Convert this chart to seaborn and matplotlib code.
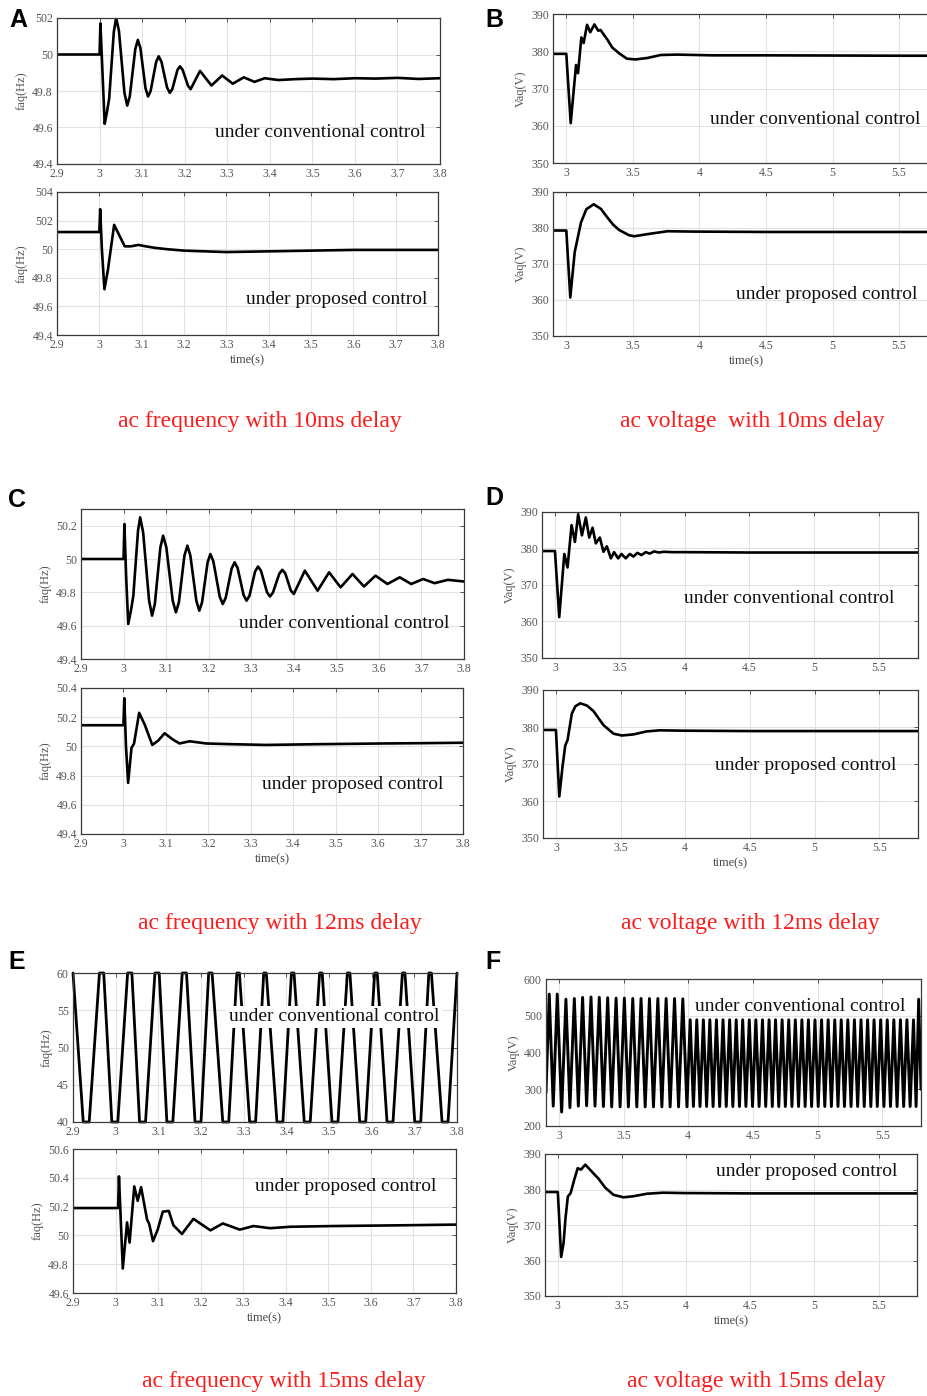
import numpy as np
import pandas as pd
import matplotlib
matplotlib.use("Agg")
import matplotlib.pyplot as plt
import seaborn as sns

# ---------------- data ----------------
# Panel A : 10 ms delay, frequency
A_top_t = [2.9, 3.0, 3.002, 3.006, 3.012, 3.017, 3.0225, 3.0335, 3.039, 3.0455, 3.0585, 3.065, 3.071,
           3.084, 3.09, 3.096, 3.108, 3.114, 3.12, 3.133, 3.139, 3.1455, 3.1585, 3.165, 3.171, 3.183,
           3.189, 3.195, 3.208, 3.214, 3.236, 3.263, 3.288, 3.313, 3.339, 3.364, 3.388, 3.42, 3.46,
           3.5, 3.55, 3.6, 3.65, 3.7, 3.75, 3.8]
A_top_f = [50.0, 50.0, 50.17, 49.95, 49.62, 49.68, 49.756, 50.124, 50.2, 50.13, 49.79, 49.72, 49.77,
           50.03, 50.08, 50.035, 49.815, 49.77, 49.80, 49.96, 49.99, 49.96, 49.82, 49.79, 49.81, 49.915,
           49.935, 49.917, 49.828, 49.81, 49.91, 49.83, 49.885, 49.84, 49.875, 49.85, 49.87, 49.86,
           49.865, 49.868, 49.865, 49.87, 49.868, 49.872, 49.866, 49.87]
A_bot_t = [2.9, 3.0, 3.002, 3.006, 3.012, 3.02, 3.035, 3.05, 3.06, 3.075, 3.092, 3.11, 3.13, 3.16,
           3.2, 3.25, 3.3, 3.4, 3.5, 3.6, 3.7, 3.8]
A_bot_f = [50.12, 50.12, 50.28, 50.0, 49.72, 49.85, 50.17, 50.08, 50.02, 50.02, 50.03, 50.02, 50.01,
           50.0, 49.99, 49.985, 49.98, 49.985, 49.99, 49.995, 49.995, 49.995]

# Panel B : 10 ms delay, voltage
B_top_t = [2.9, 3.0, 3.033, 3.073, 3.088, 3.113, 3.13, 3.156, 3.18, 3.211, 3.24, 3.257, 3.307, 3.345,
           3.395, 3.455, 3.52, 3.61, 3.71, 3.835, 4.1, 4.5, 5.0, 5.5, 5.8]
B_top_v = [379.3, 379.3, 360.7, 376.3, 374.1, 383.7, 382.2, 387.1, 385.1, 387.2, 385.5, 385.7, 383.2,
           381.0, 379.5, 378.0, 377.8, 378.2, 379.0, 379.1, 378.9, 378.9, 378.85, 378.8, 378.8]
B_bot_t = [2.9, 3.0, 3.03, 3.063, 3.11, 3.15, 3.206, 3.26, 3.307, 3.35, 3.395, 3.47, 3.51, 3.61, 3.76,
           3.96, 4.5, 5.0, 5.8]
B_bot_v = [379.3, 379.3, 360.7, 373.3, 381.5, 385.2, 386.6, 385.3, 383.0, 381.0, 379.5, 378.0, 377.7,
           378.3, 379.1, 379.0, 378.9, 378.9, 378.9]

# Panel C : 12 ms delay, frequency
C_top_t = [2.9, 3.0, 3.002, 3.006, 3.011, 3.018, 3.023, 3.034, 3.039, 3.046, 3.060, 3.067, 3.0735,
           3.0865, 3.093, 3.1005, 3.1155, 3.123, 3.13, 3.143, 3.15, 3.157, 3.171, 3.178, 3.1845,
           3.1975, 3.204, 3.211, 3.226, 3.233, 3.24, 3.254, 3.261, 3.268, 3.282, 3.289, 3.296, 3.309,
           3.316, 3.323, 3.337, 3.344, 3.351, 3.366, 3.373, 3.38, 3.393, 3.4, 3.426, 3.456, 3.483,
           3.51, 3.538, 3.565, 3.592, 3.62, 3.649, 3.676, 3.704, 3.731, 3.762, 3.8]
C_top_f = [50.0, 50.0, 50.21, 49.9, 49.61, 49.7, 49.78, 50.17, 50.25, 50.16, 49.75, 49.66, 49.73,
           50.07, 50.14, 50.07, 49.75, 49.68, 49.74, 50.02, 50.08, 50.02, 49.75, 49.69, 49.74, 49.98,
           50.03, 49.986, 49.774, 49.73, 49.767, 49.943, 49.98, 49.946, 49.784, 49.75, 49.78, 49.925,
           49.955, 49.929, 49.801, 49.775, 49.798, 49.912, 49.935, 49.914, 49.811, 49.79, 49.93, 49.81,
           49.92, 49.83, 49.91, 49.835, 49.9, 49.85, 49.89, 49.85, 49.88, 49.855, 49.875, 49.865]
C_bot_t = [2.9, 3.0, 3.002, 3.006, 3.011, 3.019, 3.025, 3.037, 3.05, 3.068, 3.082, 3.097, 3.115, 3.132,
           3.156, 3.195, 3.258, 3.336, 3.453, 3.61, 3.7, 3.8]
C_bot_f = [50.145, 50.145, 50.33, 50.0, 49.75, 49.99, 50.02, 50.23, 50.15, 50.01, 50.04, 50.09, 50.05,
           50.02, 50.035, 50.02, 50.015, 50.01, 50.015, 50.02, 50.022, 50.025]

# Panel D : 12 ms delay, voltage
D_top_t = [2.9, 3.0, 3.033, 3.072, 3.097, 3.128, 3.154, 3.179, 3.208, 3.238, 3.264, 3.29, 3.315, 3.346,
           3.374, 3.4, 3.431, 3.456, 3.487, 3.513, 3.546, 3.577, 3.605, 3.636, 3.667, 3.7, 3.73,
           3.764, 3.8, 3.84, 3.9, 4.0, 4.5, 5.0, 5.5, 5.8]
D_top_v = [379.3, 379.3, 361.2, 378.5, 374.8, 386.4, 381.8, 389.4, 383.6, 388.5, 383.0, 385.7, 381.4,
           383.0, 379.1, 380.6, 377.3, 379.0, 377.3, 378.5, 377.3, 378.5, 377.8, 378.8, 378.2, 379.0,
           378.6, 379.2, 378.9, 379.1, 379.0, 379.0, 378.9, 378.9, 378.9, 378.9]
D_bot_t = [2.9, 3.0, 3.026, 3.05, 3.072, 3.09, 3.123, 3.15, 3.188, 3.24, 3.29, 3.368, 3.445, 3.51, 3.6,
           3.7, 3.8, 4.0, 4.5, 5.0, 5.8]
D_bot_v = [379.2, 379.2, 361.2, 369.0, 375.0, 376.5, 383.6, 385.6, 386.4, 385.8, 384.3, 380.5, 378.2,
           377.7, 378.0, 378.8, 379.1, 379.0, 378.9, 378.9, 378.9]

# Panel E : 15 ms delay, frequency (conventional control saturates 40..60 Hz)
E_top_t = [2.9, 2.924, 2.938, 2.962, 2.972, 2.991, 3.005, 3.028, 3.038, 3.056, 3.07, 3.092, 3.102,
           3.12, 3.134, 3.156, 3.166, 3.186, 3.2, 3.218, 3.226, 3.251, 3.265, 3.284, 3.29, 3.314,
           3.328, 3.347, 3.353, 3.378, 3.392, 3.412, 3.418, 3.442, 3.456, 3.478, 3.484, 3.507, 3.521,
           3.543, 3.549, 3.572, 3.586, 3.607, 3.613, 3.636, 3.65, 3.672, 3.678, 3.701, 3.715, 3.734,
           3.74, 3.765, 3.779, 3.8]
E_top_f = [60, 40, 40, 60, 60, 40, 40, 60, 60, 40, 40, 60, 60, 40, 40, 60, 60, 40, 40, 60, 60, 40, 40,
           60, 60, 40, 40, 60, 60, 40, 40, 60, 60, 40, 40, 60, 60, 40, 40, 60, 60, 40, 40, 60, 60, 40,
           40, 60, 60, 40, 40, 60, 60, 40, 40, 60]
E_bot_t = [2.9, 3.006, 3.008, 3.017, 3.027, 3.033, 3.044, 3.052, 3.06, 3.074, 3.079, 3.088, 3.099,
           3.111, 3.125, 3.136, 3.156, 3.183, 3.223, 3.252, 3.292, 3.324, 3.363, 3.41, 3.512, 3.669, 3.8]
E_bot_f = [50.19, 50.19, 50.41, 49.77, 50.09, 49.95, 50.34, 50.24, 50.335, 50.11, 50.08, 49.96, 50.04,
           50.165, 50.17, 50.07, 50.01, 50.115, 50.035, 50.083, 50.04, 50.065, 50.05, 50.06, 50.065,
           50.07, 50.075]

# Panel F : 15 ms delay, voltage (conventional control oscillates)
F_top_peak_t = [2.925, 2.987, 3.054, 3.119, 3.183, 3.248, 3.312, 3.377, 3.442, 3.506, 3.571, 3.635,
                3.700, 3.765, 3.829, 3.894, 3.958,
                4.015, 4.066, 4.117, 4.167, 4.218, 4.269, 4.320, 4.371, 4.421, 4.472, 4.523, 4.574,
                4.625, 4.675, 4.726, 4.777, 4.828, 4.879, 4.929, 4.980, 5.031, 5.082, 5.133, 5.183,
                5.234, 5.285, 5.336, 5.387, 5.437, 5.488, 5.539, 5.590, 5.641, 5.691, 5.742, 5.782]
F_top_peak_v = [559, 559, 545, 547, 550, 551, 550, 549, 548, 548, 547, 547, 547, 547, 547, 547, 546,
                489, 489, 489, 489, 489, 489, 489, 489, 489, 489, 489, 489, 489, 489, 489, 489, 489,
                489, 489, 489, 489, 489, 489, 489, 489, 489, 489, 489, 489, 489, 489, 489, 489, 489,
                489, 545]
F_top_trough_t = [2.9, 2.956, 3.021, 3.085, 3.150, 3.214, 3.279, 3.344, 3.408, 3.473, 3.537, 3.602,
                  3.667, 3.731, 3.796, 3.860, 3.925, 3.990,
                  4.040, 4.091, 4.142, 4.192, 4.243, 4.294, 4.345, 4.396, 4.446, 4.497, 4.548, 4.599,
                  4.650, 4.700, 4.751, 4.802, 4.853, 4.904, 4.954, 5.005, 5.056, 5.107, 5.158, 5.208,
                  5.259, 5.310, 5.361, 5.412, 5.462, 5.513, 5.564, 5.615, 5.666, 5.716, 5.762, 5.8]
F_top_trough_v = [290, 254, 238, 250, 254, 255, 254, 253, 252, 252, 252, 252, 252, 252, 252, 252, 252,
                  252, 253, 253, 253, 253, 253, 253, 253, 253, 253, 253, 253, 253, 253, 253, 253, 253,
                  253, 253, 253, 253, 253, 253, 253, 253, 253, 253, 253, 253, 253, 253, 253, 253, 253,
                  253, 253, 300]
F_bot_t = [2.9, 3.0, 3.026, 3.045, 3.06, 3.078, 3.1, 3.13, 3.155, 3.18, 3.214, 3.266, 3.318, 3.37,
           3.434, 3.512, 3.59, 3.693, 3.82, 3.98, 4.5, 5.0, 5.8]
F_bot_v = [379.3, 379.3, 361.0, 365.0, 372.0, 378.0, 379.0, 383.0, 386.0, 385.6, 387.0, 385.0, 383.0,
           380.5, 378.5, 377.8, 378.1, 378.8, 379.1, 379.0, 378.9, 378.9, 378.9]

# tick labels
freq_xticks = [2.9, 3.0, 3.1, 3.2, 3.3, 3.4, 3.5, 3.6, 3.7, 3.8]
freq_xlabels = ["2.9", "3", "3.1", "3.2", "3.3", "3.4", "3.5", "3.6", "3.7", "3.8"]
volt_xticks = [3, 3.5, 4, 4.5, 5, 5.5]
volt_xlabels = ["3", "3.5", "4", "4.5", "5", "5.5"]

captions = ["ac frequency with 10ms delay", "ac voltage  with 10ms delay",
            "ac frequency with 12ms delay", "ac voltage with 12ms delay",
            "ac frequency with 15ms delay", "ac voltage with 15ms delay"]
panel_letters = ["A", "B", "C", "D", "E", "F"]
conv_label = "under conventional control"
prop_label = "under proposed control"

# ---------------- style ----------------
sns.set_theme(style="whitegrid")
plt.rcParams['font.family'] = ['Liberation Serif', 'DejaVu Serif']

W, H = 928, 1396
fig = plt.figure(figsize=(W / 100, H / 100), dpi=100)
fig.patch.set_facecolor("white")

SER = "Liberation Serif"
TICK_C = "#555555"


def make_ax(l, r, t, b):
    return fig.add_axes([l / W, 1 - b / H, (r - l) / W, (b - t) / H])


def style_ax(ax, xlim, ylim, xticks, xlabels, yticks, ylabels, ylabel, xlabel=None):
    ax.set_facecolor("white")
    ax.set_xlim(*xlim)
    ax.set_ylim(*ylim)
    ax.set_xticks(xticks)
    ax.set_xticklabels(xlabels)
    ax.set_yticks(yticks)
    ax.set_yticklabels(ylabels)
    ax.grid(True, color="#e2e2e2", linewidth=0.8)
    ax.tick_params(direction="in", length=3, width=0.7, top=True, right=True,
                   colors=TICK_C, labelsize=8.5, pad=3)
    for lab in ax.get_xticklabels() + ax.get_yticklabels():
        lab.set_family(SER)
    for sp in ax.spines.values():
        sp.set_color("#3a3a3a")
        sp.set_linewidth(0.9)
    ax.set_ylabel(ylabel, family=SER, fontsize=9, color=TICK_C, labelpad=3)
    if xlabel:
        ax.set_xlabel(xlabel, family=SER, fontsize=9, color="#444444", labelpad=2)
    else:
        ax.set_xlabel("")


def draw(ax, t, y, lw=1.9, clip=True):
    df = pd.DataFrame({"t": t, "y": y})
    sns.lineplot(data=df, x="t", y="y", ax=ax, color="black", linewidth=lw,
                 estimator=None, sort=False)
    if not clip:
        for ln in ax.get_lines():
            ln.set_clip_on(False)


def label(ax, x, y, s, box=False):
    kw = dict(ha="right", va="center", fontsize=14, family=SER, color="#111111", zorder=5)
    if box:
        kw["bbox"] = dict(facecolor="white", edgecolor="none", pad=2)
    ax.text(x, y, s, **kw)


# ---- Panel A ----
ax = make_ax(57, 440, 18, 164)
draw(ax, A_top_t, A_top_f)
style_ax(ax, (2.9, 3.8), (49.4, 50.2), freq_xticks, freq_xlabels,
         [49.4, 49.6, 49.8, 50.0, 50.2], ["49.4", "49.6", "49.8", "50", "502"], "faq(Hz)")
label(ax, 3.765, 49.57, conv_label)

ax = make_ax(57, 438, 192, 335)
draw(ax, A_bot_t, A_bot_f)
style_ax(ax, (2.9, 3.8), (49.4, 50.4), freq_xticks, freq_xlabels,
         [49.4, 49.6, 49.8, 50.0, 50.2, 50.4], ["49.4", "49.6", "49.8", "50", "502", "504"],
         "faq(Hz)", "time(s)")
label(ax, 3.775, 49.645, prop_label)

# ---- Panel B ----
ax = make_ax(553, 939, 14, 163)
draw(ax, B_top_t, B_top_v)
style_ax(ax, (2.9, 5.8), (350, 390), volt_xticks, volt_xlabels,
         [350, 360, 370, 380, 390], ["350", "360", "370", "380", "390"], "Vaq(V)")
label(ax, 5.66, 361.8, conv_label)

ax = make_ax(553, 939, 192, 336)
draw(ax, B_bot_t, B_bot_v)
style_ax(ax, (2.9, 5.8), (350, 390), volt_xticks, volt_xlabels,
         [350, 360, 370, 380, 390], ["350", "360", "370", "380", "390"], "Vaq(V)", "time(s)")
label(ax, 5.64, 361.4, prop_label)

# ---- Panel C ----
ax = make_ax(81, 464, 509, 659)
draw(ax, C_top_t, C_top_f)
style_ax(ax, (2.9, 3.8), (49.4, 50.3), freq_xticks, freq_xlabels,
         [49.4, 49.6, 49.8, 50.0, 50.2], ["49.4", "49.6", "49.8", "50", "50.2"], "faq(Hz)")
label(ax, 3.765, 49.61, conv_label)

ax = make_ax(81, 463, 688, 834)
draw(ax, C_bot_t, C_bot_f)
style_ax(ax, (2.9, 3.8), (49.4, 50.4), freq_xticks, freq_xlabels,
         [49.4, 49.6, 49.8, 50.0, 50.2, 50.4], ["49.4", "49.6", "49.8", "50", "50.2", "50.4"],
         "faq(Hz)", "time(s)")
label(ax, 3.753, 49.74, prop_label)

# ---- Panel D ----
ax = make_ax(542, 918, 512, 658)
draw(ax, D_top_t, D_top_v)
style_ax(ax, (2.9, 5.8), (350, 390), volt_xticks, volt_xlabels,
         [350, 360, 370, 380, 390], ["350", "360", "370", "380", "390"], "Vaq(V)")
label(ax, 5.614, 366.4, conv_label)

ax = make_ax(543, 918, 690, 838)
draw(ax, D_bot_t, D_bot_v)
style_ax(ax, (2.9, 5.8), (350, 390), volt_xticks, volt_xlabels,
         [350, 360, 370, 380, 390], ["350", "360", "370", "380", "390"], "Vaq(V)", "time(s)")
label(ax, 5.63, 369.7, prop_label)

# ---- Panel E ----
ax = make_ax(73, 457, 973, 1122)
draw(ax, E_top_t, E_top_f, lw=2.0, clip=False)
style_ax(ax, (2.9, 3.8), (40, 60), freq_xticks, freq_xlabels,
         [40, 45, 50, 55, 60], ["40", "45", "50", "55", "60"], "faq(Hz)")
label(ax, 3.758, 54.1, conv_label, box=True)

ax = make_ax(73, 456, 1149, 1293)
draw(ax, E_bot_t, E_bot_f)
style_ax(ax, (2.9, 3.8), (49.6, 50.6), freq_xticks, freq_xlabels,
         [49.6, 49.8, 50.0, 50.2, 50.4, 50.6], ["49.6", "49.8", "50", "50.2", "50.4", "50.6"],
         "faq(Hz)", "time(s)")
label(ax, 3.753, 50.34, prop_label)

# ---- Panel F ----
F_top = pd.DataFrame({"t": F_top_peak_t + F_top_trough_t,
                      "y": F_top_peak_v + F_top_trough_v}).sort_values("t")
ax = make_ax(546, 921, 979, 1126)
draw(ax, F_top["t"].tolist(), F_top["y"].tolist(), lw=2.1)
style_ax(ax, (2.9, 5.8), (200, 600), volt_xticks, volt_xlabels,
         [200, 300, 400, 500, 600], ["200", "300", "400", "500", "600"], "Vaq(V)")
label(ax, 5.676, 526.5, conv_label)

ax = make_ax(545, 917, 1154, 1296)
draw(ax, F_bot_t, F_bot_v)
style_ax(ax, (2.9, 5.8), (350, 390), volt_xticks, volt_xlabels,
         [350, 360, 370, 380, 390], ["350", "360", "370", "380", "390"], "Vaq(V)", "time(s)")
label(ax, 5.65, 385.2, prop_label)

# ---- panel letters & captions ----
letter_pos = [(9, 20), (485, 20), (8, 500), (485, 498), (8, 962), (485, 962)]
for s, (x, y) in zip(panel_letters, letter_pos):
    fig.text(x / W, 1 - y / H, s, ha="left", va="center", fontsize=18, fontweight="bold",
             family="Liberation Sans", color="black")

cap_pos = [(260, 422), (752, 422), (280, 923), (750, 923), (284, 1382), (756, 1382)]
for s, (x, y) in zip(captions, cap_pos):
    fig.text(x / W, 1 - y / H, s, ha="center", va="center", fontsize=17, family=SER,
             color="#ff1a1a")

fig.savefig("out.png", dpi=100, facecolor="white")
